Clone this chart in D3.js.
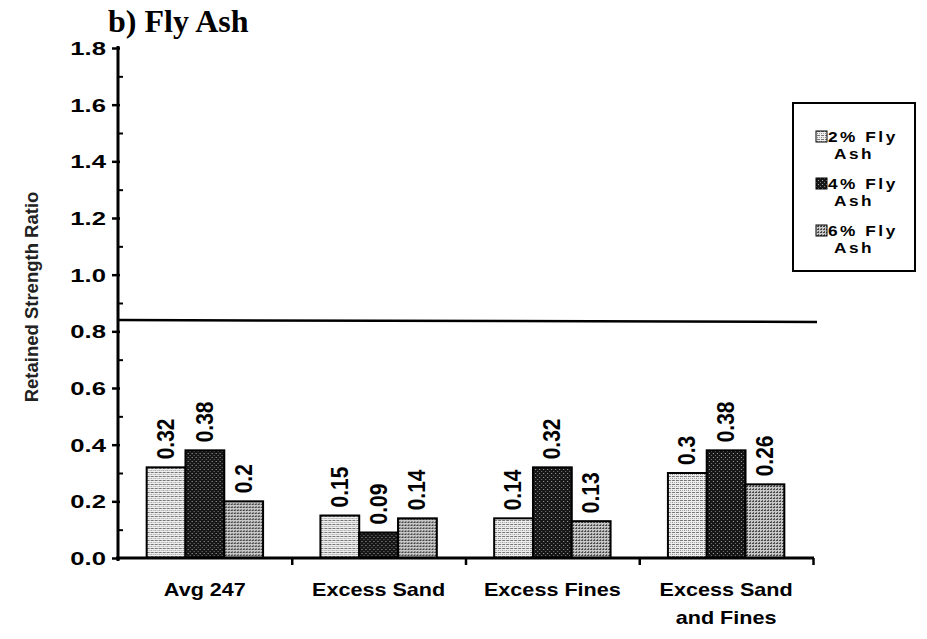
<!DOCTYPE html>
<html>
<head>
<meta charset="utf-8">
<script src="https://cdn.jsdelivr.net/npm/d3@7/dist/d3.min.js"></script>
<style>
  html, body { margin: 0; padding: 0; background: #fff; }
  svg { display: block; }
  .bold { font-family: "Liberation Sans", Arial, sans-serif; font-weight: bold; }
</style>
</head>
<body>
<svg id="chart" width="927" height="639"></svg>
<script>
// Retained strength ratio, fly ash additive
const categories = ["Avg 247", "Excess Sand", "Excess Fines", "Excess Sand and Fines"];
const categoryLines = [["Avg 247"], ["Excess Sand"], ["Excess Fines"], ["Excess Sand", "and Fines"]];
const seriesNames = ["2% Fly Ash", "4% Fly Ash", "6% Fly Ash"];
const fly2 = [0.32, 0.15, 0.14, 0.30];
const fly4 = [0.38, 0.09, 0.32, 0.38];
const fly6 = [0.20, 0.14, 0.13, 0.26];
const seriesValues = [fly2, fly4, fly6];
const valueLabels = [["0.32", "0.15", "0.14", "0.3"], ["0.38", "0.09", "0.32", "0.38"], ["0.2", "0.14", "0.13", "0.26"]];
const yTicks = [0.0, 0.2, 0.4, 0.6, 0.8, 1.0, 1.2, 1.4, 1.6, 1.8];
const yMinorTicks = [0.1, 0.3, 0.5, 0.7, 0.9, 1.1, 1.3, 1.5, 1.7];
const thresholdValue = 0.84;

const svg = d3.select("#chart");
const plotLeft = 118, plotRight = 813, plotTop = 48, plotBottom = 558;

const y = d3.scaleLinear().domain([0, 1.8]).range([plotBottom, plotTop]);
const x0 = d3.scaleBand().domain(categories).range([plotLeft, plotRight]).paddingInner(0.33).paddingOuter(0.165);
const x1 = d3.scaleBand().domain(seriesNames).range([0, x0.bandwidth()]);
const xEdge = d3.scaleLinear().domain([0, categories.length]).range([plotLeft, plotRight]);

// dotted fills for the three series
const defs = svg.append("defs");
const p2 = defs.append("pattern").attr("id", "pat0").attr("patternUnits", "userSpaceOnUse").attr("width", 4).attr("height", 4);
p2.append("rect").attr("width", 4).attr("height", 4).attr("fill", "#eeeeee");
p2.append("rect").attr("x", 0).attr("y", 0).attr("width", 3).attr("height", 1).attr("fill", "#777");
p2.append("rect").attr("x", 0).attr("y", 2).attr("width", 1).attr("height", 1).attr("fill", "#888");
p2.append("rect").attr("x", 2).attr("y", 2).attr("width", 1).attr("height", 1).attr("fill", "#aaa");

const p4 = defs.append("pattern").attr("id", "pat1").attr("patternUnits", "userSpaceOnUse").attr("width", 4).attr("height", 4);
p4.append("rect").attr("width", 4).attr("height", 4).attr("fill", "#161616");
p4.append("rect").attr("x", 1).attr("y", 1).attr("width", 1).attr("height", 1).attr("fill", "#aaa");
p4.append("rect").attr("x", 3).attr("y", 3).attr("width", 1).attr("height", 1).attr("fill", "#777");

const p6 = defs.append("pattern").attr("id", "pat2").attr("patternUnits", "userSpaceOnUse").attr("width", 3).attr("height", 3);
p6.append("rect").attr("width", 3).attr("height", 3).attr("fill", "#c8c8c8");
p6.append("rect").attr("x", 0).attr("y", 0).attr("width", 2).attr("height", 1).attr("fill", "#444");
p6.append("rect").attr("x", 1).attr("y", 2).attr("width", 1).attr("height", 1).attr("fill", "#555");

// title
svg.append("text")
  .attr("x", 108).attr("y", 32)
  .attr("font-family", "'Liberation Serif', 'Times New Roman', serif")
  .attr("font-weight", "bold").attr("font-size", 32)
  .text("b) Fly Ash");

// bars
const rows = (d, ci) => seriesNames.map((s, si) => ({ s, si, v: seriesValues[si][ci], label: valueLabels[si][ci] }));
const groups = svg.append("g").selectAll("g")
  .data(categories)
  .join("g")
  .attr("transform", d => `translate(${x0(d)},0)`);

groups.selectAll("rect")
  .data(rows)
  .join("rect")
  .attr("x", d => x1(d.s))
  .attr("y", d => y(d.v))
  .attr("width", x1.bandwidth())
  .attr("height", d => y(0) - y(d.v))
  .attr("fill", d => `url(#pat${d.si})`)
  .attr("stroke", "#000").attr("stroke-width", 2);

groups.selectAll("text")
  .data(rows)
  .join("text")
  .attr("class", "bold")
  .attr("font-size", 21)
  .attr("text-anchor", "start")
  .attr("dominant-baseline", "central")
  .attr("transform", d => `translate(${x1(d.s) + x1.bandwidth() / 2},${y(d.v) - 8}) rotate(-90) scale(1,1.12)`)
  .text(d => d.label);

// y axis: major ticks with labels, minor ticks inside
const yAxis = svg.append("g").attr("transform", `translate(${plotLeft},0)`)
  .call(d3.axisLeft(y).tickValues(yTicks).tickSize(6).tickSizeOuter(0).tickFormat(d3.format(".1f")));
yAxis.select(".domain").attr("stroke-width", 3).attr("d", `M0,${plotTop - 2}V${plotBottom + 3}`);
yAxis.selectAll(".tick line").attr("stroke-width", 2.5).attr("x2", -6).attr("x1", 2);
yAxis.selectAll(".tick text")
  .attr("class", "bold").attr("font-size", 19).attr("fill", "#000")
  .attr("x", null).attr("dy", "0.35em")
  .attr("transform", "translate(-12,0) scale(1.35,1)");

svg.append("g").attr("transform", `translate(${plotLeft},0)`)
  .call(d3.axisRight(y).tickValues(yMinorTicks).tickSize(5).tickFormat(""))
  .call(g => g.select(".domain").remove())
  .selectAll(".tick line").attr("stroke-width", 2);

// y axis title
svg.append("text")
  .attr("class", "bold")
  .attr("font-size", 18.5).attr("fill", "#222")
  .attr("text-anchor", "middle")
  .attr("transform", `translate(38,297) rotate(-90)`)
  .text("Retained Strength Ratio");

// x axis: boundary ticks
const xAxis = svg.append("g").attr("transform", `translate(0,${plotBottom})`)
  .call(d3.axisBottom(xEdge).tickValues(d3.range(1, categories.length + 1)).tickSize(7).tickSizeOuter(0).tickFormat(""));
xAxis.select(".domain").attr("stroke-width", 3).attr("d", `M${plotLeft - 2},0H${plotRight + 1}`);
xAxis.selectAll(".tick line").attr("stroke-width", 2.5);

// category labels (multi-line)
const catAxis = svg.append("g").attr("transform", `translate(0,${plotBottom})`)
  .call(d3.axisBottom(x0).tickSize(0).tickFormat(""));
catAxis.select(".domain").remove();
catAxis.selectAll(".tick").each(function (d, i) {
  const t = d3.select(this);
  categoryLines[i].forEach((line, li) => {
    t.append("text")
      .attr("class", "bold").attr("font-size", 18).attr("fill", "#000")
      .attr("text-anchor", "middle")
      .attr("transform", `translate(0,${38 + li * 28}) scale(1.2,1)`)
      .text(line);
  });
});

// reference ratio line
svg.append("line")
  .attr("x1", plotLeft).attr("x2", plotRight + 4)
  .attr("y1", y(thresholdValue)).attr("y2", y(thresholdValue) + 2)
  .attr("stroke", "#000").attr("stroke-width", 2.5);

// legend
const lg = svg.append("g").attr("transform", "translate(793,103)");
lg.append("rect").attr("width", 122).attr("height", 168)
  .attr("fill", "#fff").attr("stroke", "#000").attr("stroke-width", 2);
seriesNames.forEach((name, i) => {
  const words = name.split(" ");
  const gy = 39 + i * 47;
  lg.append("rect").attr("x", 23).attr("y", gy - 11).attr("width", 11).attr("height", 11)
    .attr("fill", `url(#pat${i})`).attr("stroke", "#000").attr("stroke-width", 1);
  lg.append("text")
    .attr("class", "bold").attr("font-size", 15)
    .attr("letter-spacing", 2.2)
    .attr("transform", `translate(35,${gy}) scale(1.15,1)`)
    .text(words[0] + " " + words[1]);
  lg.append("text")
    .attr("class", "bold").attr("font-size", 15)
    .attr("letter-spacing", 2.2)
    .attr("transform", `translate(41,${gy + 17}) scale(1.15,1)`)
    .text(words.slice(2).join(" "));
});
</script>
</body>
</html>
